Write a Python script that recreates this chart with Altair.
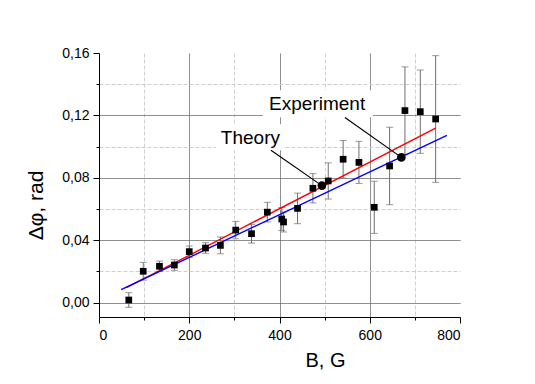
import altair as alt
import pandas as pd

# ---- data ----
B = [66, 98, 134, 167, 200, 236, 269, 303, 338, 373, 405, 409, 440, 474, 508,
     541, 576, 610, 644, 678, 712, 746]
phi = [0.0017, 0.0201, 0.0233, 0.0241, 0.0327, 0.0350, 0.0367, 0.0465, 0.0442,
       0.0580, 0.0536, 0.0517, 0.0604, 0.0733, 0.0780, 0.0919, 0.0899, 0.0611,
       0.0876, 0.1231, 0.1224, 0.1177]
err = [0.0047, 0.0057, 0.0033, 0.0034, 0.0036, 0.0034, 0.0054, 0.0056, 0.0060,
       0.0063, 0.0074, 0.0064, 0.0098, 0.0094, 0.0116, 0.0120, 0.0135, 0.0167,
       0.0248, 0.0280, 0.0267, 0.0406]

theory_B = [61, 746]
theory_phi = [0.0096, 0.1119]
fit_B = [49, 771]
fit_phi = [0.0083, 0.1072]

label_text = ["Theory", "Experiment"]
label_B = [270, 377]
label_phi = [0.1019, 0.1237]
box_B = [259, 363]
box_B2 = [408, 607]
box_phi = [0.0976, 0.1188]
box_phi2 = [0.1143, 0.1361]
arrow_B = [381, 545]
arrow_phi = [0.0976, 0.1186]
marker_B = [494, 670]
marker_phi = [0.0750, 0.0931]

x_values = [0, 100, 200, 300, 400, 500, 600, 700, 800]
y_values = [0, 0.02, 0.04, 0.06, 0.08, 0.1, 0.12, 0.14, 0.16]

pts = pd.DataFrame({"B": B, "phi": phi, "err": err})
pts["lo"] = pts["phi"] - pts["err"]
pts["hi"] = pts["phi"] + pts["err"]
theory = pd.DataFrame({"B": theory_B, "phi": theory_phi})
fit = pd.DataFrame({"B": fit_B, "phi": fit_phi})
ann = pd.DataFrame({
    "text": label_text, "B": label_B, "phi": label_phi,
    "bx": box_B, "bx2": box_B2, "by": box_phi, "by2": box_phi2,
    "ax": arrow_B, "ay": arrow_phi, "mx": marker_B, "my": marker_phi,
})

xscale = alt.Scale(domain=[0, 800], nice=False, zero=False)
yscale = alt.Scale(domain=[-0.0092, 0.16], nice=False, zero=False)

xmaj = "datum.value % 200 === 0"
ymaj = "abs(round(datum.value * 100)) % 4 === 0"

x_axis = alt.Axis(
    values=x_values, title="B, G", format="d",
    labelExpr=f"{xmaj} ? datum.label : ''",
    labelFontSize=14, labelColor="black", labelPadding=5,
    domainColor="black", tickColor="black",
    tickSize={"condition": {"test": xmaj, "value": 6}, "value": 3},
    grid=True,
    gridColor={"condition": {"test": xmaj, "value": "#6a6a6a"}, "value": "#cfcfcf"},
    gridDash={"condition": {"test": xmaj, "value": [1, 0]}, "value": [4, 2]},
    gridOpacity={"condition": {"test": "datum.value === 0 || datum.value === 800", "value": 0}, "value": 1},
    titleFontSize=20, titleFontWeight="normal", titleColor="black",
    titleX=226, titleY=49, titleAlign="center", titleBaseline="alphabetic",
)
y_axis = alt.Axis(
    values=y_values, title="Δφ, rad",
    labelExpr=f"{ymaj} ? replace(format(datum.value, '.2f'), '.', ',') : ''",
    labelFontSize=14, labelColor="black", labelPadding=4,
    domainColor="black", tickColor="black",
    tickSize={"condition": {"test": ymaj, "value": 6}, "value": 3},
    grid=True,
    gridColor={"condition": {"test": ymaj, "value": "#6a6a6a"}, "value": "#cfcfcf"},
    gridDash={"condition": {"test": ymaj, "value": [1, 0]}, "value": [4, 2]},
    gridOpacity={"condition": {"test": "datum.value > 0.155", "value": 0}, "value": 1},
    titleFontSize=21, titleFontWeight="normal", titleColor="black",
    titleAngle=270, titleX=-57, titleY=152, titleAlign="center",
    titleBaseline="alphabetic",
)

X = alt.X("B:Q", scale=xscale, axis=x_axis)
Y = alt.Y("phi:Q", scale=yscale, axis=y_axis)

boxes = alt.Chart(ann).mark_rect(color="white").encode(
    x=alt.X("bx:Q", scale=xscale, axis=x_axis), x2="bx2:Q",
    y=alt.Y("by:Q", scale=yscale, axis=y_axis), y2="by2:Q",
)

base = alt.Chart(pts)
bars = base.mark_rule(color="#6e6e6e", strokeWidth=1).encode(
    x=X, y=alt.Y("lo:Q", scale=yscale, axis=y_axis), y2="hi:Q")
cap_lo = base.mark_tick(color="#6e6e6e", orient="horizontal", size=7, thickness=1).encode(
    x=X, y=alt.Y("lo:Q", scale=yscale, axis=y_axis))
cap_hi = base.mark_tick(color="#6e6e6e", orient="horizontal", size=7, thickness=1).encode(
    x=X, y=alt.Y("hi:Q", scale=yscale, axis=y_axis))

red = alt.Chart(theory).mark_line(color="#ff0000", strokeWidth=1.4).encode(x=X, y=Y)
blue = alt.Chart(fit).mark_line(color="#0000ff", strokeWidth=1.4).encode(x=X, y=Y)

squares = base.mark_square(color="black", size=45, opacity=1).encode(x=X, y=Y)

arrows = alt.Chart(ann).mark_rule(color="black", strokeWidth=1.2).encode(
    x=alt.X("ax:Q", scale=xscale, axis=x_axis), x2="mx:Q",
    y=alt.Y("ay:Q", scale=yscale, axis=y_axis), y2="my:Q",
)
markers = alt.Chart(ann).mark_circle(color="black", size=75, opacity=1).encode(
    x=alt.X("mx:Q", scale=xscale, axis=x_axis),
    y=alt.Y("my:Q", scale=yscale, axis=y_axis),
)
labels = alt.Chart(ann).mark_text(
    align="left", baseline="alphabetic", fontSize=19, color="black"
).encode(x=X, y=Y, text="text:N")

chart = alt.layer(
    boxes, bars, cap_lo, cap_hi, red, blue, squares, arrows, markers, labels
).properties(
    width=361, height=264,
    padding={"left": 91, "top": 45, "right": 67, "bottom": 59},
    autosize=alt.AutoSizeParams(type="none"),
).configure(
    font="Liberation Sans"
).configure_view(strokeWidth=0)

chart.save("out.html", embed_options={"renderer": "svg", "actions": False})
